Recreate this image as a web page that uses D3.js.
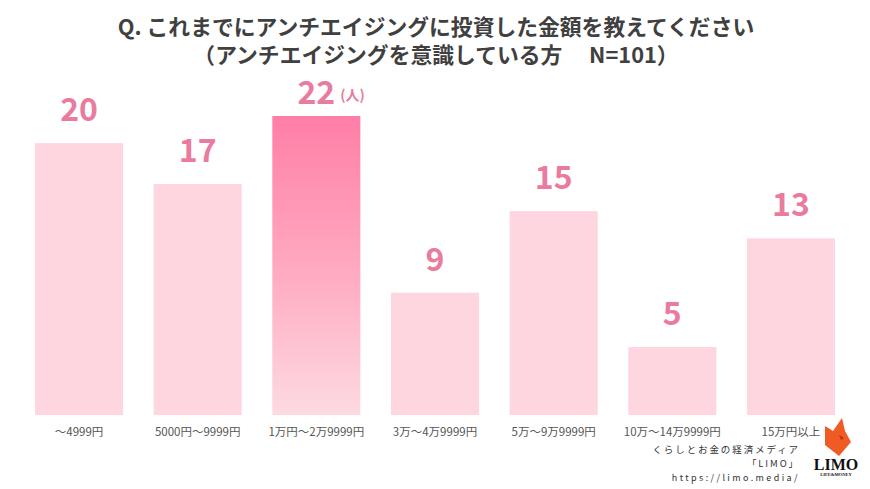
<!DOCTYPE html>
<html>
<head>
<meta charset="utf-8">
<script src="https://cdn.jsdelivr.net/npm/d3@7"></script>
<style>
  html, body { margin: 0; padding: 0; background: #fff; }
  svg { display: block; font-family: "Noto Sans CJK JP", "Noto Sans", sans-serif; }
</style>
</head>
<body>
<div class="graph_container"></div>
<script>
// data
const categories = ["～4999円", "5000円～9999円", "1万円～2万9999円", "3万～4万9999円", "5万～9万9999円", "10万～14万9999円", "15万円以上"];
const counts = [20, 17, 22, 9, 15, 5, 13];
const highlight = "1万円～2万9999円";
const titleLines = ["Q. これまでにアンチエイジングに投資した金額を教えてください", "（アンチエイジングを意識している方\u3000 N=101）"];
const unitLabel = "(人)";
const footerLines = ["くらしとお金の経済メディア", "「LIMO」", "https://limo.media/"];

const W = 870, H = 489;
const data = categories.map((c, i) => ({ cat: c, v: counts[i] }));

const svg = d3.select(".graph_container").append("svg")
  .attr("width", W).attr("height", H);

const defs = svg.append("defs");
const grad = defs.append("linearGradient")
  .attr("id", "hl").attr("x1", 0).attr("y1", 0).attr("x2", 0).attr("y2", 1);
grad.append("stop").attr("offset", "0%").attr("stop-color", "#ff7ea7");
grad.append("stop").attr("offset", "55%").attr("stop-color", "#ffadc2");
grad.append("stop").attr("offset", "100%").attr("stop-color", "#fddae2");

// scales
const x = d3.scaleBand().domain(categories).range([35, 835]).paddingInner(0.258).paddingOuter(0);
const y = d3.scaleLinear().domain([0, 22]).range([415, 116]);

// title
svg.append("g").selectAll("text").data(titleLines).join("text")
  .attr("x", 436).attr("y", (d, i) => 35 + i * 28)
  .attr("text-anchor", "middle")
  .attr("font-size", 21.8).attr("font-weight", 700)
  .attr("fill", "#404040")
  .style("white-space", "pre")
  .text(d => d);

// bars
svg.append("g").selectAll("rect").data(data).join("rect")
  .attr("x", d => x(d.cat))
  .attr("y", d => y(d.v))
  .attr("width", x.bandwidth())
  .attr("height", d => y(0) - y(d.v))
  .attr("fill", d => d.cat === highlight ? "url(#hl)" : "#fdd6df");

// value labels
svg.append("g").selectAll("text").data(data).join("text")
  .attr("x", d => x(d.cat) + x.bandwidth() / 2)
  .attr("y", d => y(d.v) - (d.cat === highlight ? 12 : 22))
  .attr("text-anchor", "middle")
  .attr("font-size", 32).attr("font-weight", 700)
  .attr("fill", "#ea7b9e")
  .text(d => d.v);

const hd = data.find(d => d.cat === highlight);
svg.append("text")
  .attr("x", x(hd.cat) + x.bandwidth() / 2 + 24)
  .attr("y", y(hd.v) - 16)
  .attr("font-size", 14).attr("font-weight", 700)
  .attr("fill", "#ea7b9e")
  .text(unitLabel);

// x axis labels
const xAxis = d3.axisBottom(x).tickSize(0).tickPadding(13);
const gx = svg.append("g").attr("transform", "translate(0,415)").call(xAxis);
gx.select(".domain").remove();
gx.selectAll("text")
  .attr("font-size", 11.5)
  .attr("font-family", "\"Noto Sans CJK JP\", sans-serif")
  .attr("fill", "#555");

// footer
const foot = svg.append("g").attr("fill", "#333").attr("text-anchor", "end");
foot.append("text").attr("x", 800).attr("y", 453).attr("font-size", 9.5).attr("letter-spacing", 1.9).text(footerLines[0]);
foot.append("text").attr("x", 800).attr("y", 467).attr("font-size", 9.5).attr("letter-spacing", 1.9).text(footerLines[1]);
foot.append("text").attr("x", 800).attr("y", 481).attr("font-size", 9).attr("letter-spacing", 2.4).text(footerLines[2]);

// logo
const logo = svg.append("g").attr("transform", "translate(822,418)");
logo.append("path")
  .attr("d", "M3,8 L11,13 L20,0 L23,13 L29,24 L17,38 L3,27 Z")
  .attr("fill", "#f05a23");
logo.append("path")
  .attr("d", "M17,17 L22,20 L19,22 Z")
  .attr("fill", "#b5330f");
logo.append("text").attr("x", 14).attr("y", 52)
  .attr("text-anchor", "middle")
  .attr("font-family", "\"Liberation Serif\", serif")
  .attr("font-weight", 700).attr("font-size", 16).attr("fill", "#111")
  .text("LIMO");
logo.append("text").attr("x", 14).attr("y", 58)
  .attr("text-anchor", "middle")
  .attr("font-family", "\"Liberation Serif\", serif")
  .attr("font-weight", 700).attr("font-size", 4.5).attr("fill", "#111")
  .text("LIFE&MONEY");
</script>
</body>
</html>
